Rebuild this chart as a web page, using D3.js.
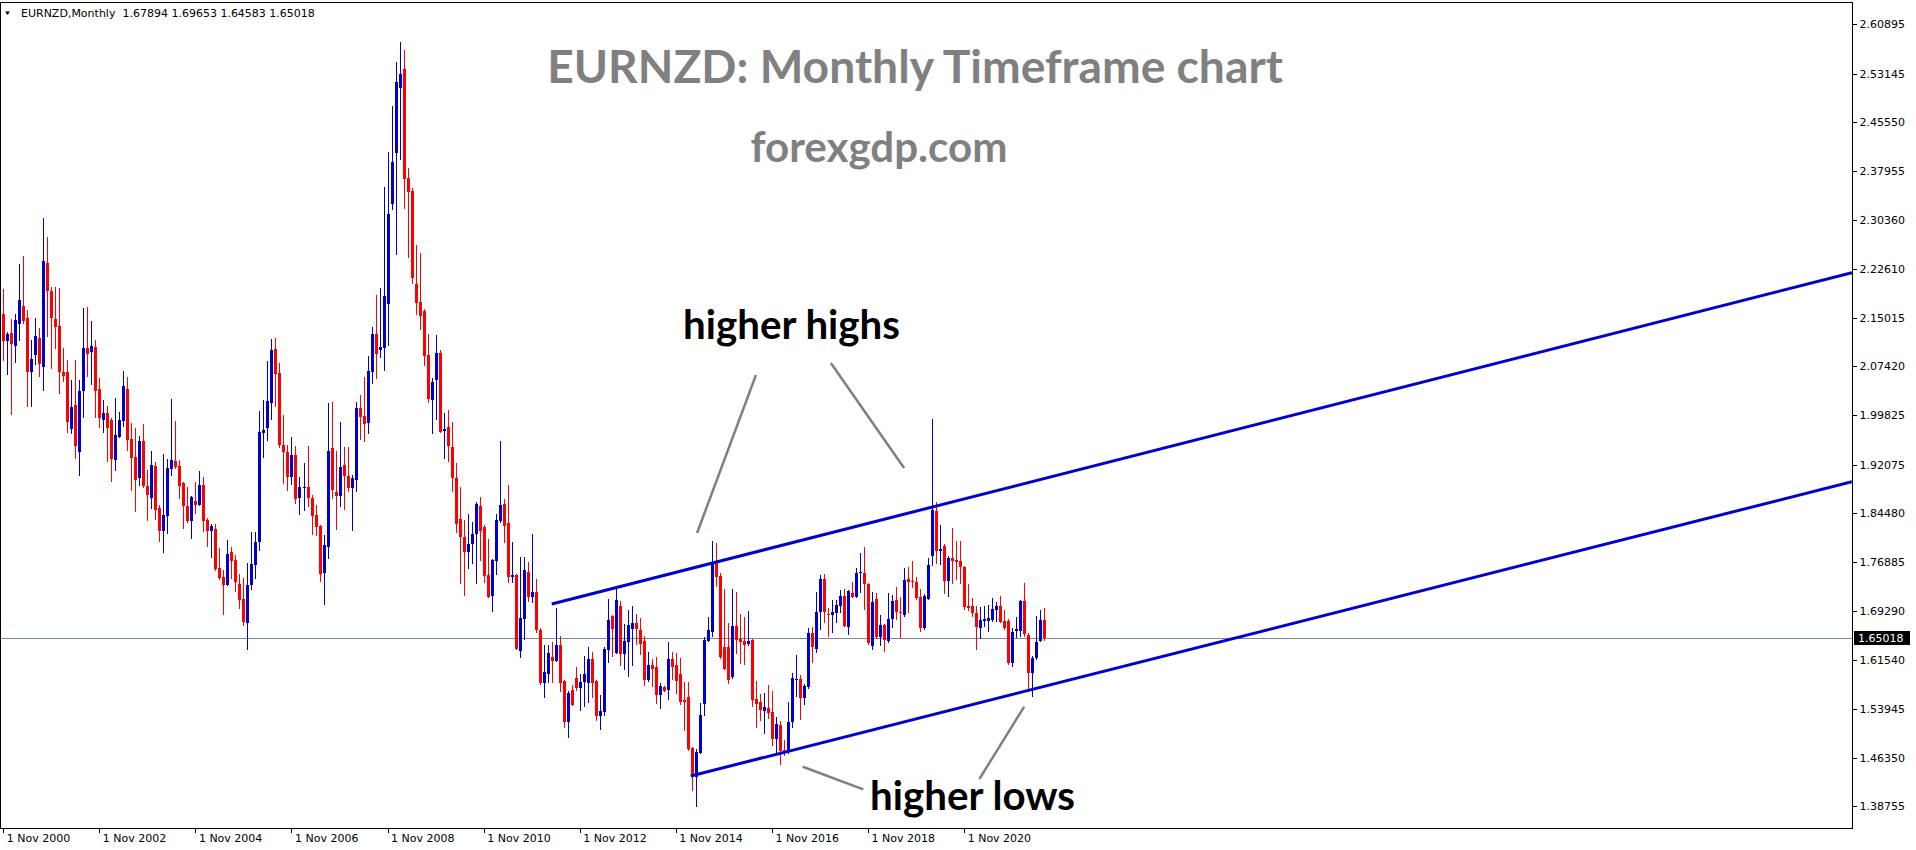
<!DOCTYPE html>
<html><head><meta charset="utf-8">
<script src="https://cdn.jsdelivr.net/npm/d3@7"></script>
<style>
html,body{margin:0;padding:0;background:#fff;}
svg{display:block;}
</style></head>
<body>
<svg id="chart" width="1916" height="850"></svg>
<script>
// ---- DATA (EURNZD monthly, first bar = Nov 2000) ----
const symbol = "EURNZD,Monthly";
const startMonth = "2000-11";
const opens = [2.1561,2.1139,2.1264,2.1061,2.1405,2.1686,2.1498,2.0655,2.0921,2.1186,2.0733,2.2357,2.1920,2.1483,2.1374,2.0655,2.0655,1.9765,2.0140,1.9406,2.0359,2.1030,2.0968,2.1046,2.0390,1.9906,2.0015,1.9906,1.9281,1.9640,1.9890,2.0390,1.9609,1.9328,1.9000,1.9578,1.8875,1.8688,1.9187,1.8532,1.8172,1.8407,1.9141,1.9265,1.9187,1.8922,1.8563,1.8329,1.8641,1.8578,1.8891,1.8344,1.8172,1.8204,1.7595,1.7454,1.7329,1.7845,1.7720,1.7345,1.7111,1.6736,1.7329,1.7642,1.8001,1.9703,1.9781,2.0171,2.1014,2.0640,1.9515,1.9406,1.9016,1.9359,1.8688,1.8844,1.8860,1.8688,1.8422,1.8251,1.7517,1.7923,1.9468,1.8781,1.8719,1.9203,1.9031,1.8844,1.8969,2.0093,1.9968,1.9859,2.0655,2.1249,2.0999,2.1030,2.1717,2.3279,2.4075,2.5090,2.5387,2.3685,2.3481,2.2029,2.1748,2.1608,2.0921,2.0218,2.0530,2.0952,1.9734,1.9796,1.9484,1.9000,1.8360,1.8079,1.7845,1.7969,1.8126,1.8563,1.8235,1.7485,1.7157,1.7704,1.8329,1.8594,1.8297,1.7454,1.7485,1.6299,1.6798,1.7532,1.7142,1.7220,1.6627,1.5799,1.5939,1.6205,1.6142,1.6392,1.5830,1.5190,1.5690,1.5877,1.5721,1.5815,1.5799,1.6174,1.5830,1.5284,1.5346,1.6314,1.6845,1.6267,1.7001,1.6252,1.6439,1.6642,1.6736,1.6627,1.6455,1.5846,1.6080,1.6049,1.5612,1.5737,1.5690,1.6174,1.6080,1.5939,1.5534,1.5580,1.4784,1.4331,1.4706,1.5471,1.6455,1.6595,1.7688,1.7470,1.6361,1.6361,1.5893,1.6689,1.6486,1.6455,1.6408,1.6470,1.5549,1.5502,1.5362,1.5409,1.5346,1.4925,1.5143,1.4753,1.4737,1.5190,1.5846,1.5862,1.5565,1.5737,1.6580,1.6330,1.6908,1.7423,1.6876,1.6861,1.6892,1.7001,1.7157,1.6673,1.7204,1.7142,1.7517,1.7517,1.7345,1.6377,1.7111,1.6517,1.6705,1.6455,1.6798,1.7095,1.6908,1.6861,1.7423,1.7392,1.7376,1.7142,1.6658,1.7111,1.7782,1.8485,1.7860,1.7938,1.7392,1.7751,1.7720,1.7704,1.7610,1.7001,1.7001,1.6892,1.6658,1.6767,1.6767,1.6783,1.6939,1.7001,1.6767,1.6767,1.6111,1.6611,1.6611,1.7079,1.6549,1.5955,1.6189,1.6455,1.67894];
const highs = [2.1951,2.1280,2.1483,2.1561,2.2342,2.2467,2.1623,2.1155,2.1498,2.1342,2.3060,2.2763,2.1983,2.1983,2.1967,2.1030,2.0843,2.0530,2.0843,2.0530,2.1655,2.1670,2.1452,2.1155,2.0562,2.0218,2.0124,1.9937,2.0249,2.0031,2.0671,2.0577,1.9859,1.9781,1.9656,1.9843,1.9125,1.9422,1.9250,1.8578,1.9375,1.9297,2.0233,1.9890,1.9281,1.8938,1.8860,1.8719,1.8938,1.9109,1.9016,1.8375,1.8282,1.8282,1.7907,1.7563,1.8032,1.7923,1.7798,1.7501,1.7439,1.7673,1.8157,1.8157,2.0046,2.0218,2.0827,2.1171,2.1186,2.0796,1.9984,1.9515,1.9640,1.9500,1.9016,1.9234,1.9500,1.8735,1.8578,1.8266,1.8110,2.0171,2.0187,1.9422,1.9875,1.9484,1.9484,1.9047,2.0187,2.0296,2.0577,2.0905,2.1358,2.1858,2.1967,2.3544,2.4091,2.4809,2.5496,2.5808,2.5683,2.3841,2.3528,2.2638,2.2513,2.1639,2.1249,2.0562,2.1233,2.0999,2.0015,2.0062,1.9875,1.9234,1.8860,1.8344,1.8438,1.8313,1.8625,1.8703,1.8266,1.8048,1.7735,1.8438,1.9578,1.8672,1.8891,1.8001,1.7501,1.7766,1.7766,1.7688,1.8126,1.7423,1.6658,1.6392,1.6392,1.6439,1.6970,1.6533,1.5846,1.5674,1.5768,1.6049,1.5939,1.6220,1.6361,1.6283,1.5846,1.5612,1.6361,1.7111,1.6861,1.7267,1.7079,1.6720,1.6939,1.7001,1.6876,1.6814,1.6533,1.6283,1.6174,1.6205,1.5799,1.5752,1.6439,1.6283,1.6267,1.6189,1.5815,1.5815,1.4800,1.4768,1.5487,1.6517,1.6830,1.8016,1.7985,1.7517,1.7267,1.6736,1.7267,1.7220,1.6876,1.6830,1.6923,1.6486,1.5830,1.5627,1.5643,1.5768,1.5674,1.5268,1.5206,1.4909,1.5502,1.5955,1.6236,1.5924,1.5783,1.6658,1.6673,1.7220,1.7485,1.7501,1.6970,1.7095,1.7095,1.7251,1.7267,1.7251,1.7376,1.7595,1.7829,1.7923,1.7361,1.7220,1.7204,1.6861,1.6720,1.7204,1.7173,1.7298,1.7142,1.7595,1.7610,1.7704,1.7454,1.7267,1.7189,1.7751,1.9921,1.8625,1.8266,1.7969,1.7782,1.8219,1.8016,1.8016,1.7626,1.7345,1.7126,1.7001,1.6986,1.7001,1.7017,1.7126,1.7064,1.7157,1.6939,1.6798,1.6658,1.6830,1.7095,1.7361,1.6580,1.6220,1.6845,1.6939,1.69653];
const lows = [2.0827,2.0608,1.9984,2.0796,2.1139,2.1405,2.0109,2.0109,2.0765,2.0577,2.0359,2.1202,2.0702,2.1014,2.0312,2.0499,1.9703,1.9687,1.9297,1.9031,1.9937,2.0577,2.0452,1.9937,1.9781,1.9703,1.9250,1.8938,1.9109,1.9625,1.9796,1.9422,1.8797,1.8469,1.8875,1.8844,1.8329,1.8516,1.8344,1.8001,1.7829,1.8126,1.9031,1.9141,1.8672,1.8204,1.8297,1.8048,1.8438,1.8563,1.8157,1.7923,1.7751,1.7548,1.7407,1.6861,1.7314,1.7423,1.7220,1.6954,1.6689,1.6314,1.7251,1.7423,1.7860,1.9312,1.9578,1.9906,2.0109,1.9468,1.8906,1.8797,1.8891,1.8594,1.8422,1.8485,1.8547,1.8110,1.8094,1.7376,1.7017,1.7735,1.8672,1.8188,1.8547,1.8500,1.8781,1.8172,1.8781,1.9593,1.9562,1.9687,2.0468,2.0546,2.0874,2.0671,2.1061,2.3185,2.2482,2.3966,2.3200,2.2435,2.2029,2.1545,2.1311,2.0749,2.0171,1.9687,1.9906,1.9703,1.9297,1.9250,1.8781,1.8141,1.7345,1.7157,1.7579,1.7657,1.7345,1.7704,1.7361,1.7126,1.6908,1.7485,1.8297,1.7985,1.7361,1.7361,1.6314,1.6189,1.6470,1.7064,1.7048,1.6580,1.5768,1.5565,1.5799,1.5799,1.6127,1.5658,1.5096,1.4940,1.5440,1.5674,1.5362,1.5424,1.5487,1.5565,1.5206,1.5065,1.5284,1.6111,1.6205,1.6252,1.6064,1.6002,1.5893,1.6064,1.6392,1.6236,1.5752,1.5815,1.5737,1.5471,1.5393,1.5658,1.5534,1.5846,1.5627,1.5455,1.5049,1.4737,1.4113,1.3863,1.4690,1.5284,1.6439,1.6517,1.7298,1.6174,1.6002,1.5783,1.5862,1.6252,1.6096,1.6080,1.6377,1.5424,1.5096,1.5206,1.5003,1.5237,1.4815,1.4690,1.4519,1.4659,1.4690,1.5096,1.5580,1.5221,1.5455,1.5705,1.6111,1.6267,1.6627,1.6736,1.6517,1.6580,1.6736,1.6892,1.6673,1.6549,1.7126,1.7126,1.7204,1.6939,1.6392,1.6314,1.6486,1.6377,1.6283,1.6424,1.6658,1.6783,1.6502,1.6830,1.6892,1.7282,1.7095,1.6595,1.6627,1.7095,1.7626,1.7657,1.7642,1.7189,1.7142,1.7345,1.7407,1.7345,1.6939,1.6923,1.6830,1.6314,1.6486,1.6673,1.6595,1.6752,1.6752,1.6736,1.6627,1.6080,1.6049,1.6502,1.6517,1.6517,1.5658,1.5580,1.6158,1.6439,1.64583];
const closes = [2.1139,2.1249,2.1092,2.1467,2.1780,2.1452,2.0655,2.0858,2.1217,2.0780,2.2389,2.1920,2.1498,2.1358,2.0655,2.0593,1.9875,2.0109,1.9500,2.0359,2.1030,2.0936,2.1061,2.0359,1.9937,2.0015,1.9781,1.9297,1.9671,1.9906,2.0437,1.9593,1.9312,1.8969,1.9578,1.8875,1.8735,1.9203,1.8500,1.8172,1.8422,1.9156,1.9281,1.9172,1.8875,1.8563,1.8329,1.8703,1.8578,1.8891,1.8329,1.8172,1.8251,1.7579,1.7439,1.7329,1.7813,1.7704,1.7376,1.7095,1.6752,1.7329,1.7657,1.8001,1.9718,1.9750,2.0202,2.0999,2.0624,1.9515,1.9406,1.9016,1.9359,1.8672,1.8860,1.8860,1.8688,1.8407,1.8235,1.7501,1.7954,1.9422,1.8813,1.8719,1.9172,1.9031,1.8844,1.9000,2.0093,1.9953,1.9843,2.0671,2.1249,2.0936,2.1046,2.1842,2.3122,2.3934,2.5184,2.5308,2.3669,2.3466,2.2123,2.1733,2.1530,2.0905,2.0233,2.0499,2.0952,1.9718,1.9765,1.9500,1.9000,1.8282,1.8079,1.7845,1.7969,1.8126,1.8594,1.8172,1.7470,1.7142,1.7720,1.8344,1.8578,1.8251,1.7454,1.7485,1.6330,1.6814,1.7563,1.7142,1.7220,1.6627,1.5799,1.5971,1.6267,1.6142,1.6392,1.5799,1.5190,1.5643,1.5455,1.5721,1.5815,1.5939,1.6174,1.5799,1.5284,1.5362,1.6330,1.6783,1.6642,1.7095,1.6252,1.6455,1.6705,1.6736,1.6642,1.6408,1.5846,1.6080,1.6017,1.5612,1.5752,1.5674,1.6174,1.6049,1.5830,1.5502,1.5502,1.4768,1.4347,1.4722,1.5299,1.6470,1.6627,1.7673,1.7454,1.6205,1.6017,1.5846,1.6689,1.6470,1.6439,1.6392,1.6455,1.5534,1.5471,1.5377,1.5424,1.5331,1.4925,1.5159,1.4737,1.4722,1.5190,1.5877,1.5862,1.5565,1.5752,1.6580,1.6361,1.6908,1.7423,1.6908,1.6861,1.6908,1.7017,1.7157,1.6689,1.7236,1.7142,1.7517,1.7532,1.7345,1.6424,1.7064,1.6517,1.6705,1.6470,1.6798,1.7079,1.6908,1.6892,1.7407,1.7376,1.7376,1.7126,1.6658,1.7157,1.7642,1.8500,1.7860,1.7892,1.7392,1.7751,1.7704,1.7688,1.7610,1.6986,1.6970,1.6892,1.6673,1.6783,1.6798,1.6814,1.6954,1.7001,1.6752,1.6658,1.6111,1.6595,1.6642,1.7079,1.6564,1.5955,1.6189,1.6439,1.6783,1.65018];

const priceTicks = [2.60895,2.53145,2.45550,2.37955,2.30360,2.22610,2.15015,2.07420,1.99825,1.92075,1.84480,1.76885,1.69290,1.61540,1.53945,1.46350,1.38755];
const timeTickBars = [0,24,48,72,96,120,144,168,192,216,240];
const timeTickLabels = ["1 Nov 2000","1 Nov 2002","1 Nov 2004","1 Nov 2006","1 Nov 2008","1 Nov 2010","1 Nov 2012","1 Nov 2014","1 Nov 2016","1 Nov 2018","1 Nov 2020"];
const currentPrice = 1.65018;

// trend lines [barIndex, price]
const upperTrend = [[137.0, 1.7033],[461.7, 2.2206]];
const lowerTrend = [[171.7, 1.4347],[461.7, 1.8942]];
// pointer lines
const pointers = [
  [[173.3, 1.8141],[188.0, 2.0608]],
  [[206.7, 2.0796],[225.0, 1.9156]],
  [[199.7, 1.4492],[214.8, 1.4139]],
  [[243.8, 1.4300],[255.0, 1.5429]]
];
const notes = [
  {text:"higher highs", bar:169.8, price:2.1171, width:217},
  {text:"higher lows", bar:216.5, price:1.3816, width:205}
];
const titleText = "EURNZD: Monthly Timeframe chart";
const siteText = "forexgdp.com";

// ---- LAYOUT ----
const W = 1916, H = 850;
const plotL = 0, plotR = 1852, plotT = 3, plotB = 828;
const BLUE = "#0000cd", RED = "#ff0000";

const svg = d3.select("#chart");
const x = d3.scaleLinear().domain([0, opens.length - 1]).range([3.2, 3.2 + 4.004 * (opens.length - 1)]);
const y = d3.scaleLinear().domain([1.35350, 2.64174]).range([plotB, plotT]);

svg.append("rect").attr("width", W).attr("height", H).attr("fill", "#fff");

const defs = svg.append("defs");
defs.append("clipPath").attr("id", "plotclip").append("rect")
  .attr("x", plotL).attr("y", plotT).attr("width", plotR - plotL).attr("height", plotB - plotT);

const plot = svg.append("g").attr("clip-path", "url(#plotclip)");

// current price line
plot.append("line").attr("x1", plotL).attr("x2", plotR)
  .attr("y1", Math.round(y(currentPrice)) + 0.5).attr("y2", Math.round(y(currentPrice)) + 0.5)
  .attr("stroke", "#778899").attr("stroke-width", 1);

// candles
const bars = opens.map((o, i) => ({i, o, h: highs[i], l: lows[i], c: closes[i]}));
const cg = plot.append("g").attr("shape-rendering", "crispEdges");
const cand = cg.selectAll("g.c").data(bars).join("g").attr("class", "c");
cand.append("line")
  .attr("x1", d => Math.round(x(d.i)) + 0.5).attr("x2", d => Math.round(x(d.i)) + 0.5)
  .attr("y1", d => y(d.h)).attr("y2", d => y(d.l))
  .attr("stroke", d => d.c >= d.o ? BLUE : RED).attr("stroke-width", 1);
cand.append("rect")
  .attr("x", d => Math.round(x(d.i)) - 1).attr("width", 3)
  .attr("y", d => y(Math.max(d.o, d.c)))
  .attr("height", d => Math.max(1, Math.abs(y(d.o) - y(d.c))))
  .attr("fill", d => d.c >= d.o ? BLUE : RED);

// trend lines
const lineGen = d3.line().x(d => x(d[0])).y(d => y(d[1]));
[upperTrend, lowerTrend].forEach(t => {
  plot.append("path").attr("d", lineGen(t)).attr("fill", "none")
    .attr("stroke", BLUE).attr("stroke-width", 3);
});
pointers.forEach(p => {
  plot.append("path").attr("d", lineGen(p)).attr("fill", "none")
    .attr("stroke", "#808080").attr("stroke-width", 2.5);
});

// fitted text helper
function fitText(g, txt, cx, baseline, targetW, family, weight, color, anchor) {
  const t = g.append("text").text(txt)
    .attr("x", cx).attr("y", baseline)
    .attr("font-family", family).attr("font-weight", weight)
    .attr("font-size", 40).attr("fill", color).attr("text-anchor", anchor);
  const len = t.node().getComputedTextLength();
  t.attr("font-size", 40 * targetW / len);
  return t;
}
fitText(svg, titleText, 915, 83, 736, "Lato, 'Open Sans', sans-serif", 700, "#808080", "middle");
fitText(svg, siteText, 879, 162, 257, "Lato, 'Open Sans', sans-serif", 700, "#808080", "middle");
notes.forEach(n => fitText(svg, n.text, x(n.bar), y(n.price), n.width, "Lato, 'Open Sans', sans-serif", 700, "#000", "start"));

// frame
svg.append("rect").attr("x", 0.5).attr("y", plotT - 0.5).attr("width", plotR - 0.5).attr("height", plotB - plotT + 1)
  .attr("fill", "none").attr("stroke", "#000").attr("stroke-width", 1).attr("shape-rendering", "crispEdges");

// right price axis
const yAxis = d3.axisRight(y).tickValues(priceTicks).tickFormat(d3.format(".5f")).tickSize(4).tickPadding(3);
const ya = svg.append("g").attr("transform", `translate(${plotR + 0.5},0)`).call(yAxis);
ya.select(".domain").remove();
ya.selectAll("text").attr("font-family", "'DejaVu Sans', sans-serif").attr("font-size", 11).attr("fill", "#000");
ya.selectAll("line").attr("stroke", "#000").attr("shape-rendering", "crispEdges");

// current price label
const cpY = y(currentPrice);
svg.append("rect").attr("x", plotR + 2).attr("y", cpY - 7).attr("width", 56).attr("height", 14).attr("fill", "#000");
svg.append("text").attr("x", plotR + 6).attr("y", cpY).attr("dy", "0.35em")
  .attr("font-family", "'DejaVu Sans', sans-serif").attr("font-size", 11).attr("fill", "#fff")
  .text(d3.format(".5f")(currentPrice));

// bottom time axis
const xAxis = d3.axisBottom(x).tickValues(timeTickBars).tickFormat((d, k) => timeTickLabels[k]).tickSize(4).tickPadding(3);
const xa = svg.append("g").attr("transform", `translate(0,${plotB + 0.5})`).call(xAxis);
xa.select(".domain").remove();
xa.selectAll("line").attr("stroke", "#000").attr("shape-rendering", "crispEdges");
xa.selectAll("text").attr("text-anchor", "start").attr("dx", 3).attr("y", 6).attr("dy", "0.71em")
  .attr("font-family", "'DejaVu Sans', sans-serif").attr("font-size", 11).attr("fill", "#000");

// header
svg.append("path").attr("d", "M5,11.5 L10,11.5 L7.5,15 Z").attr("fill", "#000");
svg.append("text").attr("x", 21).attr("y", 17.3).attr("xml:space", "preserve").style("white-space", "pre")
  .attr("font-family", "'DejaVu Sans', sans-serif").attr("font-size", 11).attr("fill", "#000")
  .text(symbol + "  " + [opens[opens.length-1], highs[highs.length-1], lows[lows.length-1], closes[closes.length-1]].map(d3.format(".5f")).join(" "));
</script>
</body></html>
